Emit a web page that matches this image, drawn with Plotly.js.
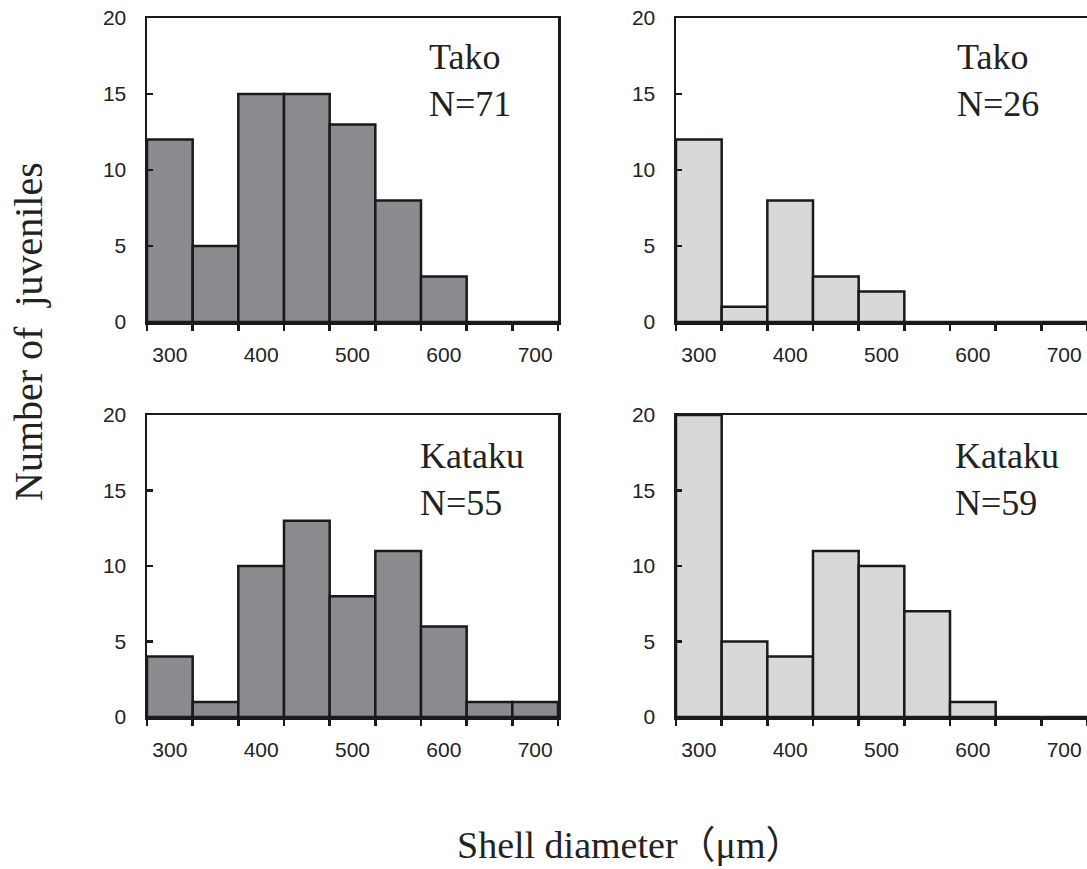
<!DOCTYPE html>
<html>
<head>
<meta charset="utf-8">
<script src="https://cdn.plot.ly/plotly-3.0.1.min.js"></script>
<style>html,body{margin:0;padding:0;background:#fff;}#chart{width:1087px;height:869px;}</style>
</head>
<body>
<div id="chart"></div>
<script>
// Bin centres of shell diameter (µm)
const binCenters = [300, 350, 400, 450, 500, 550, 600, 650, 700];
// Tick labels shown on the x axes
const xTickVals = [300, 400, 500, 600, 700];
const xTickText = ['300', '400', '500', '600', '700'];
// Counts per panel
const takoLeft    = [12, 5, 15, 15, 13, 8, 3, 0, 0];
const takoRight   = [12, 1, 8, 3, 2, 0, 0, 0, 0];
const katakuLeft  = [4, 1, 10, 13, 8, 11, 6, 1, 1];
const katakuRight = [20, 5, 4, 11, 10, 7, 1, 0, 0];
// Panel labels
const siteNames = ['Tako', 'Tako', 'Kataku', 'Kataku'];
const sampleN = [71, 26, 55, 59];
const yTitle = 'Number of  juveniles';
const xTitle = 'Shell diameter（μm）';

const W = 1087, H = 869;
const darkFill = '#898b8f', lightFill = '#d7d8da', ink = '#1a1a1a';
const serif = '"Liberation Serif", "Times New Roman", "Noto Sans CJK JP", serif';
const sans = '"Liberation Sans", Arial, sans-serif';

const series = [takoLeft, takoRight, katakuLeft, katakuRight];
const fills = [darkFill, lightFill, darkFill, lightFill];
const suffix = ['', '2', '3', '4'];

const traces = series.map((vals, i) => ({
  type: 'bar',
  x: binCenters,
  y: vals,
  width: 50,
  xaxis: 'x' + suffix[i],
  yaxis: 'y' + suffix[i],
  marker: {color: fills[i], line: {color: ink, width: 2.5}},
  showlegend: false,
  hoverinfo: 'x+y'
}));

// panel domains in pixels
const colPx = [[147, 558], [676, 1087]];
const rowPx = [[18, 322], [415, 717]]; // top, bottom
function xd(c) { return [colPx[c][0] / W, colPx[c][1] / W]; }
function yd(r) { return [(H - rowPx[r][1]) / H, (H - rowPx[r][0]) / H]; }

const layout = {
  width: W, height: H,
  margin: {l: 0, r: 0, t: 0, b: 0},
  paper_bgcolor: '#fff', plot_bgcolor: '#fff',
  bargap: 0,
  annotations: [],
  font: {family: sans, color: '#222', size: 21}
};

const cells = [[0, 0], [0, 1], [1, 0], [1, 1]]; // [row, col]
cells.forEach(([r, c], i) => {
  const s = suffix[i];
  layout['xaxis' + s] = {
    domain: xd(c), anchor: 'y' + s,
    range: [275, 725], fixedrange: true,
    tickmode: 'array', tickvals: xTickVals, ticktext: xTickText,
    ticks: '', ticklabelstandoff: 12,
    minor: {ticks: 'outside', tickmode: 'linear', tick0: 275, dtick: 50, ticklen: 6, tickwidth: 2.5, tickcolor: ink},
    showline: true, linecolor: ink, linewidth: 2.5, mirror: true,
    showgrid: false, zeroline: false,
    tickfont: {family: sans, size: 21, color: '#222'}
  };
  layout['yaxis' + s] = {
    domain: yd(r), anchor: 'x' + s,
    range: [0, 20], fixedrange: true,
    tickmode: 'linear', tick0: 0, dtick: 5,
    ticks: 'inside', ticklen: 6, tickwidth: 2.5, tickcolor: ink,
    ticklabelstandoff: 14,
    showline: true, linecolor: ink, linewidth: 2.5, mirror: true,
    showgrid: false, zeroline: false,
    tickfont: {family: sans, size: 21, color: '#222'}
  };
  const xPos = [[0.681, 0.679], [0.659, 0.674]][r][c];
  layout.annotations.push({
    xref: 'x' + s + ' domain', yref: 'y' + s + ' domain',
    x: xPos, y: r === 0 ? 0.944 : 0.937,
    xanchor: 'left', yanchor: 'top', align: 'left', showarrow: false,
    text: siteNames[i] + '<br>N=' + sampleN[i],
    font: {family: serif, size: 36, color: '#222'}
  });
});

layout.annotations.push({
  xref: 'paper', yref: 'paper', x: 28 / W, y: (H - 332) / H,
  xanchor: 'center', yanchor: 'middle', textangle: -90, showarrow: false,
  text: yTitle, font: {family: serif, size: 40, color: '#222'}
});
layout.annotations.push({
  xref: 'paper', yref: 'paper', x: 630 / W, y: (H - 845) / H,
  xanchor: 'center', yanchor: 'middle', showarrow: false,
  text: xTitle, font: {family: serif, size: 38, color: '#222'}
});

Plotly.newPlot('chart', traces, layout, {displayModeBar: false, staticPlot: true});
</script>
</body>
</html>
